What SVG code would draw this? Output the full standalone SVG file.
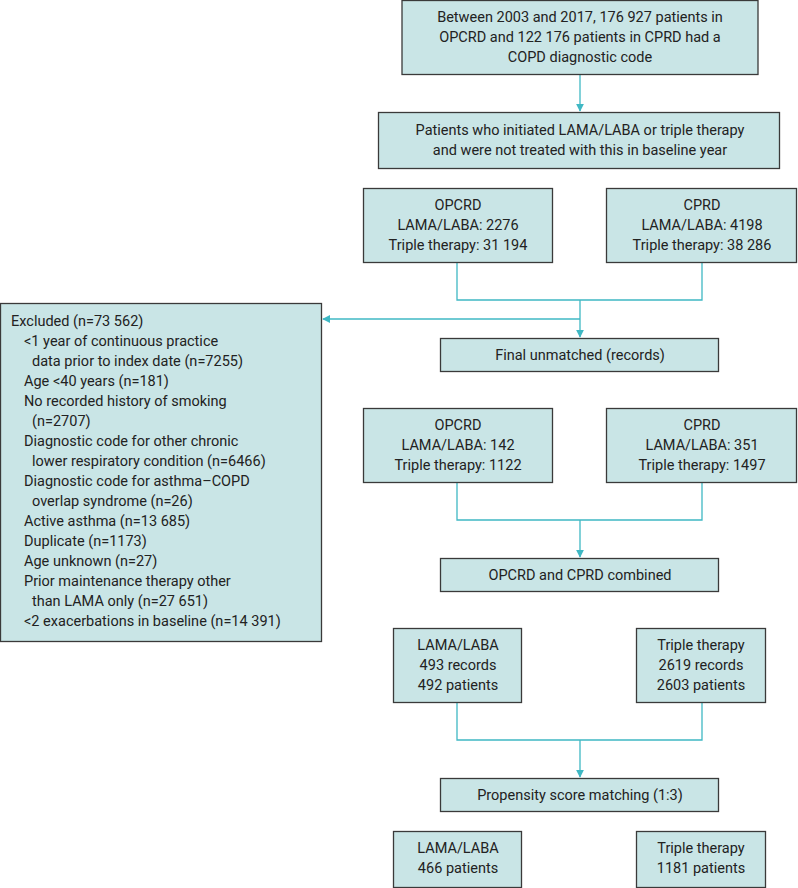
<svg xmlns="http://www.w3.org/2000/svg" width="798" height="888" viewBox="0 0 798 888">
<defs>
<style>
.b{fill:#c9e5e6;stroke:#3a3a3a;stroke-width:1.3}
text{font-family:Roboto,"Liberation Sans",sans-serif;font-size:14.5px;fill:#222}
.c{text-anchor:middle}
.l{fill:none;stroke:#3fb8c4;stroke-width:1.3}
</style>
<marker id="a" viewBox="0 0 10 10" refX="9" refY="5" markerWidth="8" markerHeight="8" orient="auto" markerUnits="userSpaceOnUse"><path d="M0,0L10,5L0,10z" fill="#3fb8c4"/></marker>
</defs>
<rect width="798" height="888" fill="#fff"/>
<g id="connectors">
<path class="l" d="M580,75V111" marker-end="url(#a)"/>
<path class="l" d="M457,262V300H702V262M580,300V337" marker-end="url(#a)"/>
<path class="l" d="M580,319H323" marker-end="url(#a)"/>
<path class="l" d="M457,482V520H702V482M580,520V557" marker-end="url(#a)"/>
<path class="l" d="M457,703V740H702V703M580,740V777" marker-end="url(#a)"/>
</g>
<g id="n1"><rect class="b" x="402" y="0.5" width="356" height="74"/>
<text class="c" x="580" y="22">Between 2003 and 2017, 176 927 patients in</text>
<text class="c" x="580" y="42">OPCRD and 122 176 patients in CPRD had a</text>
<text class="c" x="580" y="62">COPD diagnostic code</text></g>
<g id="n2"><rect class="b" x="378.5" y="112.5" width="401" height="56"/>
<text class="c" x="580" y="135">Patients who initiated LAMA/LABA or triple therapy</text>
<text class="c" x="580" y="155">and were not treated with this in baseline year</text></g>
<g id="n3"><rect class="b" x="363.5" y="188.5" width="189" height="74"/>
<text class="c" x="458" y="210">OPCRD</text><text class="c" x="458" y="230">LAMA/LABA: 2276</text><text class="c" x="458" y="250">Triple therapy: 31 194</text></g>
<g id="n4"><rect class="b" x="606.5" y="188.5" width="190" height="74"/>
<text class="c" x="702" y="210">CPRD</text><text class="c" x="702" y="230">LAMA/LABA: 4198</text><text class="c" x="702" y="250">Triple therapy: 38 286</text></g>
<g id="n5"><rect class="b" x="0.5" y="303.5" width="321" height="338"/>
<text x="11" y="326">Excluded (n=73 562)</text>
<text x="24" y="346">&lt;1 year of continuous practice</text>
<text x="32" y="366">data prior to index date (n=7255)</text>
<text x="24" y="386">Age &lt;40 years (n=181)</text>
<text x="24" y="406">No recorded history of smoking</text>
<text x="32" y="426">(n=2707)</text>
<text x="24" y="446">Diagnostic code for other chronic</text>
<text x="32" y="466">lower respiratory condition (n=6466)</text>
<text x="24" y="486">Diagnostic code for asthma–COPD</text>
<text x="32" y="506">overlap syndrome (n=26)</text>
<text x="24" y="526">Active asthma (n=13 685)</text>
<text x="24" y="546">Duplicate (n=1173)</text>
<text x="24" y="566">Age unknown (n=27)</text>
<text x="24" y="586">Prior maintenance therapy other</text>
<text x="32" y="606">than LAMA only (n=27 651)</text>
<text x="24" y="626">&lt;2 exacerbations in baseline (n=14 391)</text></g>
<g id="n6"><rect class="b" x="440.5" y="338.5" width="278" height="33"/>
<text class="c" x="580" y="360">Final unmatched (records)</text></g>
<g id="n7"><rect class="b" x="363.5" y="408.5" width="189" height="74"/>
<text class="c" x="458" y="430">OPCRD</text><text class="c" x="458" y="450">LAMA/LABA: 142</text><text class="c" x="458" y="470">Triple therapy: 1122</text></g>
<g id="n8"><rect class="b" x="606.5" y="408.5" width="190" height="74"/>
<text class="c" x="702" y="430">CPRD</text><text class="c" x="702" y="450">LAMA/LABA: 351</text><text class="c" x="702" y="470">Triple therapy: 1497</text></g>
<g id="n9"><rect class="b" x="440.5" y="558.5" width="278" height="33"/>
<text class="c" x="580" y="580">OPCRD and CPRD combined</text></g>
<g id="n10"><rect class="b" x="393.5" y="628.5" width="128" height="74"/>
<text class="c" x="458" y="650">LAMA/LABA</text><text class="c" x="458" y="670">493 records</text><text class="c" x="458" y="690">492 patients</text></g>
<g id="n11"><rect class="b" x="636.5" y="628.5" width="129" height="74"/>
<text class="c" x="701" y="650">Triple therapy</text><text class="c" x="701" y="670">2619 records</text><text class="c" x="701" y="690">2603 patients</text></g>
<g id="n12"><rect class="b" x="440.5" y="778.5" width="278" height="33"/>
<text class="c" x="580" y="800">Propensity score matching (1:3)</text></g>
<g id="n13"><rect class="b" x="393.5" y="831.5" width="128" height="56"/>
<text class="c" x="458" y="853">LAMA/LABA</text><text class="c" x="458" y="873">466 patients</text></g>
<g id="n14"><rect class="b" x="636.5" y="831.5" width="129" height="56"/>
<text class="c" x="701" y="853">Triple therapy</text><text class="c" x="701" y="873">1181 patients</text></g>
</svg>
